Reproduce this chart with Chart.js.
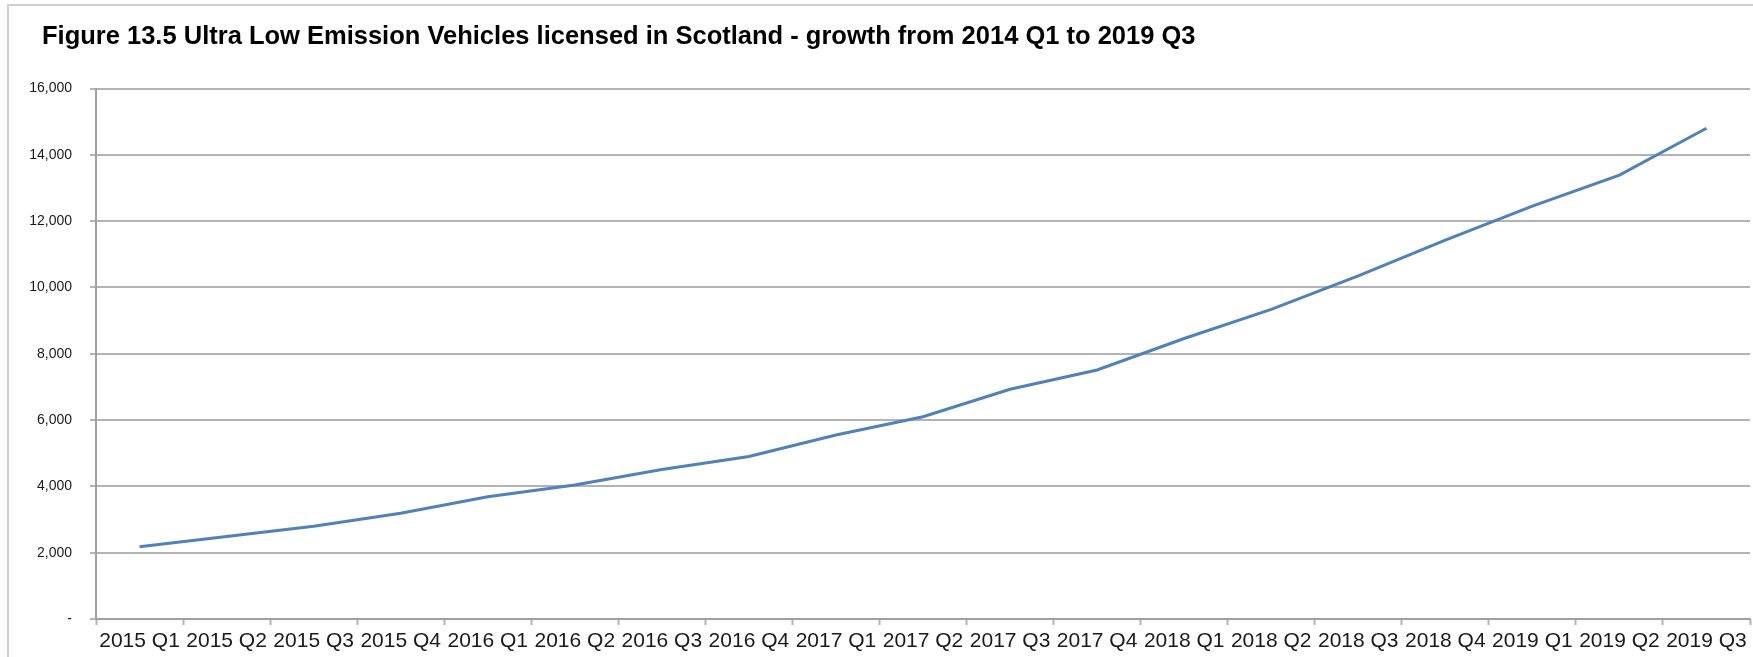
<!DOCTYPE html>
<html>
<head>
<meta charset="utf-8">
<script src="https://cdn.jsdelivr.net/npm/chart.js@4/dist/chart.umd.min.js"></script>
<style>
  html, body { margin: 0; padding: 0; background: #ffffff; }
  #wrap { position: relative; width: 1753px; height: 657px; overflow: hidden; }
  #frame { position: absolute; left: 7px; top: 4px; width: 1760px; height: 700px;
           border-left: 2px solid #cfcfcf; border-top: 2px solid #cfcfcf; pointer-events: none; }
</style>
</head>
<body>
<div id="wrap">
  <canvas id="c" width="1753" height="657"></canvas>
  <div id="frame"></div>
</div>
<script>
const titleText = "Figure 13.5 Ultra Low Emission Vehicles licensed in Scotland - growth from 2014 Q1 to 2019 Q3";
const categories = ["2015 Q1","2015 Q2","2015 Q3","2015 Q4","2016 Q1","2016 Q2","2016 Q3","2016 Q4",
  "2017 Q1","2017 Q2","2017 Q3","2017 Q4","2018 Q1","2018 Q2","2018 Q3","2018 Q4","2019 Q1","2019 Q2","2019 Q3"];
const ulevValues = [2180, 2490, 2800, 3190, 3690, 4040, 4510, 4900, 5550, 6100, 6930, 7510, 8460, 9340, 10350, 11430, 12450, 13390, 14800];
const yMin = 0;
const yMax = 16000;
const yStep = 2000;

const FONT = "'Liberation Sans', Arial, Helvetica, sans-serif";
const gridGray = '#b3b3b3';

// Use the narrow sans for the value axis if it is installed, otherwise a smaller regular one
const probe = document.createElement('canvas').getContext('2d');
probe.font = "17px 'Liberation Sans Narrow', monospace";
const wNarrow = probe.measureText('16,000').width;
probe.font = "17px monospace";
const wMono = probe.measureText('16,000').width;
const hasNarrow = Math.abs(wNarrow - wMono) > 0.5;
const yTickFont = hasNarrow
  ? { family: "'Liberation Sans Narrow', 'Liberation Sans', Arial, sans-serif", size: 17 }
  : { family: FONT, size: 14 };

// Figure title, drawn at the reference's position (left-aligned with the frame inset)
const figureTitle = {
  id: 'figureTitle',
  afterDraw(chart) {
    const ctx = chart.ctx;
    ctx.save();
    ctx.font = "bold 25.5px " + FONT;
    ctx.fillStyle = '#000000';
    ctx.textAlign = 'left';
    ctx.textBaseline = 'middle';
    ctx.fillText(titleText, 42, 37);
    ctx.restore();
  }
};

new Chart(document.getElementById('c'), {
  type: 'line',
  data: {
    labels: categories,
    datasets: [{
      label: 'ULEVs licensed',
      data: ulevValues,
      borderColor: '#4F81BD',
      backgroundColor: '#4F81BD',
      borderWidth: 3,
      pointRadius: 0,
      tension: 0,
      fill: false
    }]
  },
  plugins: [figureTitle],
  options: {
    responsive: false,
    animation: false,
    devicePixelRatio: 1,
    layout: { padding: { left: 23, right: 3, top: 88.5, bottom: 0 } },
    plugins: {
      legend: { display: false },
      tooltip: { enabled: false },
      title: { display: false }
    },
    scales: {
      x: {
        type: 'category',
        offset: true,
        grid: {
          display: true,
          offset: true,
          drawOnChartArea: false,
          drawTicks: true,
          tickLength: 6,
          tickColor: gridGray,
          tickWidth: 2
        },
        border: { display: true, color: '#a0a0a0', width: 2 },
        ticks: {
          autoSkip: false,
          maxRotation: 0,
          minRotation: 0,
          padding: 4,
          color: '#1a1a1a',
          font: { family: FONT, size: 21 }
        },
        afterFit: (s) => { s.height = 38; }
      },
      y: {
        min: yMin,
        max: yMax,
        grid: {
          color: gridGray,
          lineWidth: 2,
          drawTicks: true,
          tickLength: 6,
          tickColor: gridGray,
          tickWidth: 2
        },
        border: { display: true, color: '#a0a0a0', width: 2 },
        ticks: {
          stepSize: yStep,
          padding: 18,
          color: '#1a1a1a',
          font: yTickFont,
          callback: (v) => v === 0 ? '-' : Number(v).toLocaleString('en-US')
        },
        afterFit: (s) => { s.width = 73; }
      }
    }
  }
});
</script>
</body>
</html>
